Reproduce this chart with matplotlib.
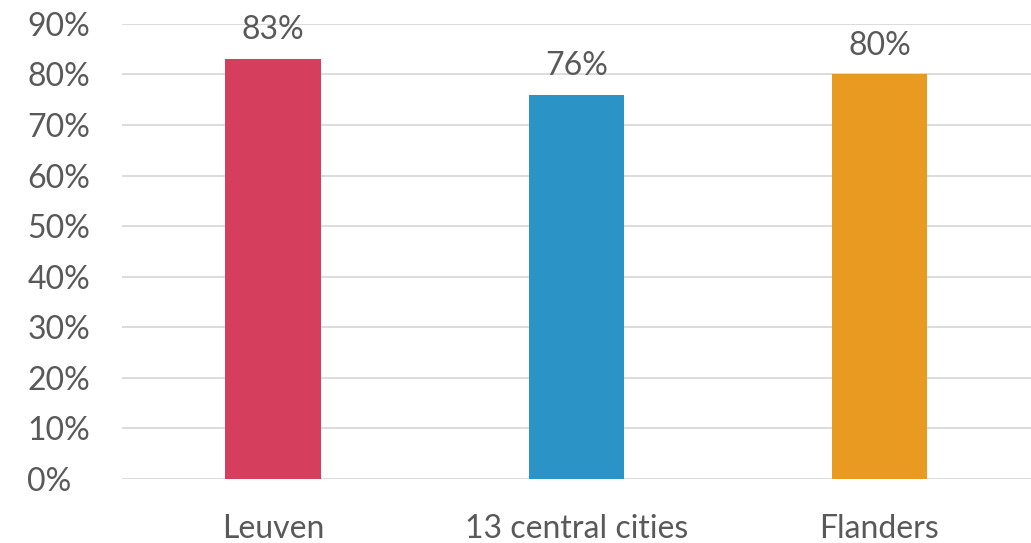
import matplotlib
matplotlib.use("Agg")
import matplotlib.pyplot as plt
from matplotlib.ticker import PercentFormatter

categories = ["Leuven", "13 central cities", "Flanders"]
values = [83, 76, 80]
colors = ["#D63E5E", "#2B93C5", "#E89B20"]
yticks = list(range(0, 91, 10))

txt = "#595959"
plt.rcParams["font.family"] = ["Lato", "DejaVu Sans"]

fig = plt.figure(figsize=(10.31, 5.43), dpi=100)
ax = fig.add_axes([0.118, 0.118, 0.882, 0.838])

x = range(len(categories))
bars = ax.bar(x, values, width=0.315, color=colors, zorder=3)
for b, v in zip(bars, values):
    ax.annotate(f"{v}%", (b.get_x() + b.get_width() / 2, v),
                textcoords="offset points", xytext=(0, 10),
                ha="center", va="bottom", fontsize=23, color=txt)

ax.set_xlim(-0.5, 2.5)
ax.set_ylim(0, 90)
ax.set_yticks(yticks)
ax.yaxis.set_major_formatter(PercentFormatter(decimals=0))
ax.set_xticks(list(x))
ax.set_xticklabels(categories)
ax.tick_params(axis="both", length=0, labelsize=23, labelcolor=txt)
ax.tick_params(axis="x", pad=25)
ax.tick_params(axis="y", pad=68)
for lbl in ax.get_yticklabels():
    lbl.set_ha("left")
ax.grid(axis="y", color="#D9D9D9", linewidth=1.3, zorder=0)
for s in ax.spines.values():
    s.set_visible(False)

fig.savefig("out.png", dpi=100)
